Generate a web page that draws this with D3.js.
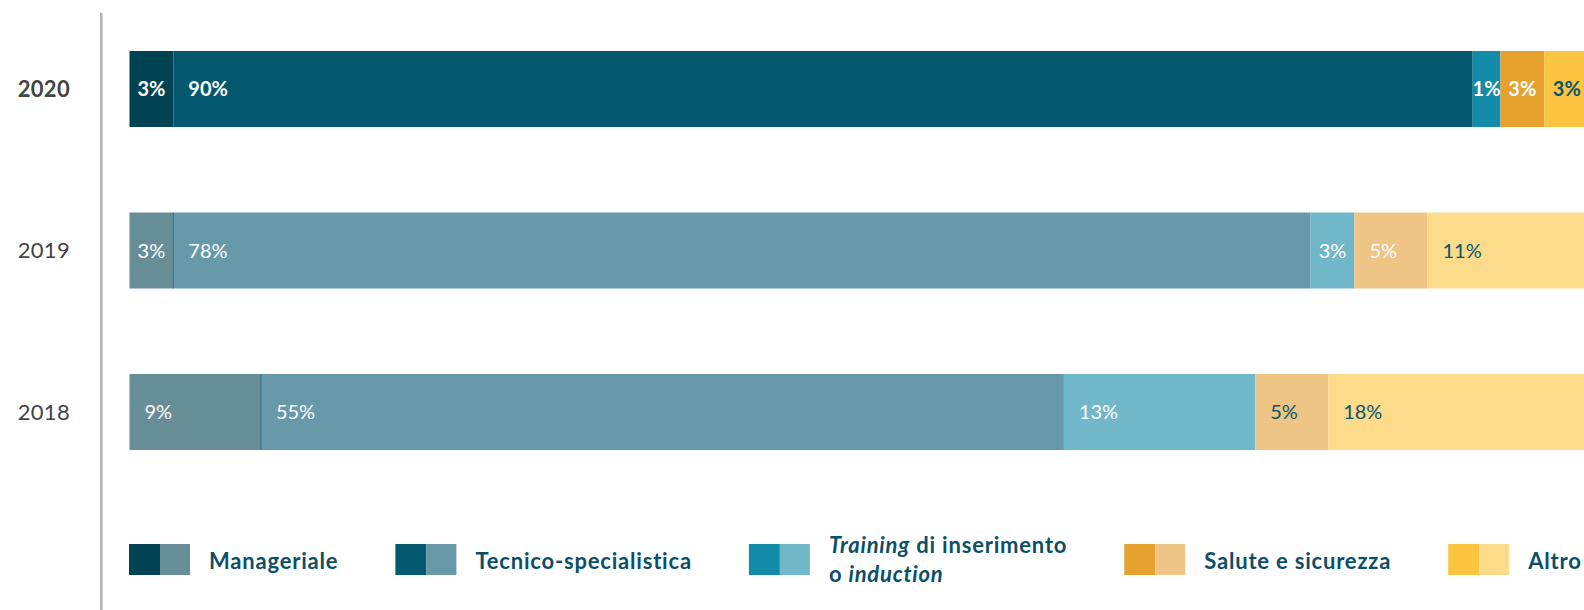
<!DOCTYPE html>
<html>
<head>
<meta charset="utf-8">
<script src="https://cdn.jsdelivr.net/npm/d3@7"></script>
<style>
  body { margin: 0; background: #fff; }
  svg { display: block; font-family: Lato, "Noto Sans", sans-serif; }
</style>
</head>
<body>
<div id="graph"></div>
<script>
// data
const years = ["2020", "2019", "2018"]
const categories = ["Manageriale", "Tecnico-specialistica", "Training di inserimento o induction", "Salute e sicurezza", "Altro"]
const values2020 = [3.0, 89.0, 1.9, 3.0, 3.1]
const values2019 = [3.0, 77.9, 3.0, 5.0, 11.1]
const values2018 = [9.0, 55.0, 13.1, 5.0, 17.9]
const labels2020 = ["3%", "90%", "1%", "3%", "3%"]
const labels2019 = ["3%", "78%", "3%", "5%", "11%"]
const labels2018 = ["9%", "55%", "13%", "5%", "18%"]

const valuesByYear = { "2020": values2020, "2019": values2019, "2018": values2018 }
const labelsByYear = { "2020": labels2020, "2019": labels2019, "2018": labels2018 }

// colours: strong for current year, faded for previous years
const strong = ["#014253", "#03586f", "#128aa8", "#e6a12e", "#fcc541"]
const faded = ["#678d96", "#6799ab", "#6fb7c9", "#eec584", "#fcdb8b"]
const darkText = "#0b5570"
// which labels are written in dark teal instead of white
const darkLabel = { "2020": [4], "2019": [4], "2018": [3, 4] }

const W = 1584, H = 610
const svg = d3.select("#graph").append("svg")
    .attr("width", W)
    .attr("height", H)

const x = d3.scaleLinear()
    .domain([0, 100])
    .range([129.5, 1589.5])

const y = d3.scalePoint()
    .domain(years)
    .range([89, 412])

const barH = 76

// vertical axis line
svg.append("rect")
    .attr("x", 100)
    .attr("y", 13)
    .attr("width", 2.6)
    .attr("height", H - 13)
    .attr("fill", "#b5b5b5")

// year labels
svg.selectAll(".year")
    .data(years)
    .enter()
    .append("text")
    .attr("class", "year")
    .attr("x", 70)
    .attr("y", d => y(d))
    .attr("dy", "0.36em")
    .attr("text-anchor", "end")
    .attr("font-size", 22)
    .attr("letter-spacing", 0.3)
    .attr("font-weight", (d, i) => i === 0 ? 700 : 400)
    .attr("fill", "#444")
    .text(d => d)

// stacked bars
years.forEach((yr, yi) => {
    const vals = valuesByYear[yr]
    let acc = 0
    const segs = vals.map((v, i) => {
        const s = { i: i, x0: acc, x1: acc + v, label: labelsByYear[yr][i] }
        acc += v
        return s
    })
    const g = svg.append("g").attr("class", "bar-" + yr)
    const palette = yi === 0 ? strong : faded

    g.selectAll("rect")
        .data(segs)
        .enter()
        .append("rect")
        .attr("x", d => x(d.x0))
        .attr("y", y(yr) - barH / 2)
        .attr("width", d => x(d.x1) - x(d.x0))
        .attr("height", barH)
        .attr("fill", d => palette[d.i])

    // thin divider between first two segments on faded bars
    if (yi > 0) {
        g.append("rect")
            .attr("x", x(segs[1].x0) - 0.5)
            .attr("y", y(yr) - barH / 2)
            .attr("width", 1)
            .attr("height", barH)
            .attr("fill", "#2d6b7f")
    }

    g.selectAll("text")
        .data(segs)
        .enter()
        .append("text")
        .attr("x", d => {
            const w = x(d.x1) - x(d.x0)
            return w < 50 ? (x(d.x0) + x(d.x1)) / 2 : x(d.x0) + 15
        })
        .attr("text-anchor", d => (x(d.x1) - x(d.x0)) < 50 ? "middle" : "start")
        .attr("y", y(yr))
        .attr("dy", "0.36em")
        .attr("font-size", 20)
        .attr("font-weight", yi === 0 ? 700 : 400)
        .attr("fill", d => darkLabel[yr].includes(d.i) ? darkText : "#fff")
        .text(d => d.label)
})

// legend
const legendColor = "#0b4f68"
const legend = svg.append("g").attr("class", "legend")
let lx = 129
categories.forEach((c, i) => {
    const item = legend.append("g").attr("transform", `translate(${lx},544)`)
    item.append("rect").attr("width", 31).attr("height", 31).attr("fill", strong[i])
    item.append("rect").attr("x", 31).attr("width", 30).attr("height", 31).attr("fill", faded[i])
    const t = item.append("text")
        .attr("x", 80)
        .attr("font-size", 22)
        .attr("letter-spacing", 0.8)
        .attr("font-weight", 700)
        .attr("fill", legendColor)
    let w
    if (i === 2) {
        const l1 = t.append("tspan").attr("x", 80).attr("y", 9)
        l1.append("tspan").attr("font-style", "italic").text("Training")
        l1.append("tspan").text(" di inserimento")
        const l2 = t.append("tspan").attr("x", 80).attr("y", 38)
        l2.append("tspan").text("o ")
        l2.append("tspan").attr("font-style", "italic").text("induction")
        w = l1.node().getComputedTextLength()
    } else {
        t.attr("y", 25).text(c)
        w = t.node().getComputedTextLength()
    }
    lx += 80 + w + 57
})
</script>
</body>
</html>
